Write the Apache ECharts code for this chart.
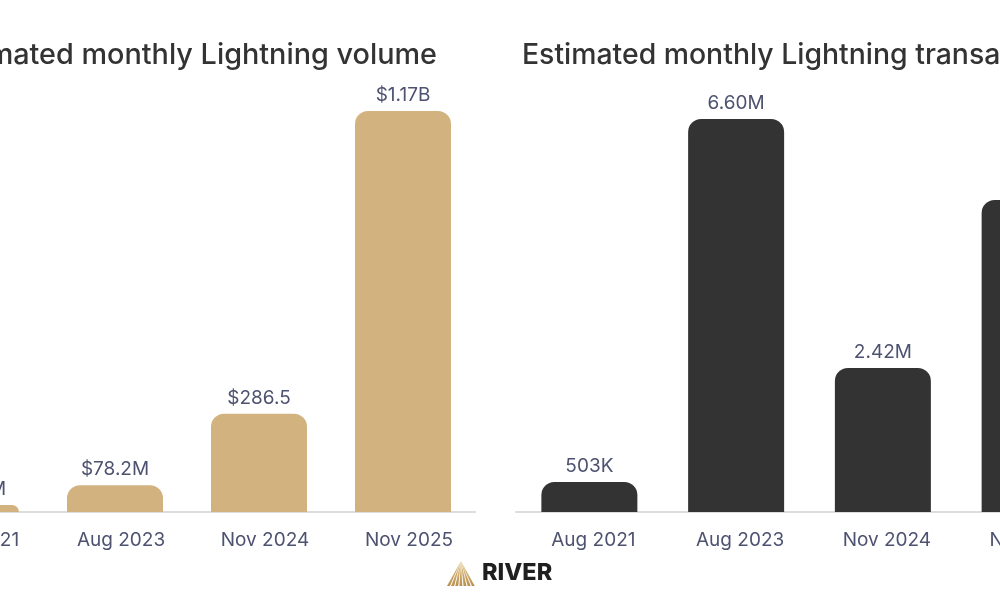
<!DOCTYPE html>
<html>
<head>
<meta charset="utf-8">
<script src="https://cdn.jsdelivr.net/npm/echarts@6/dist/echarts.min.js"></script>
<style>
html,body{margin:0;padding:0;width:1000px;height:600px;overflow:hidden;background:#fff;}
#c{position:absolute;left:-120px;top:0;width:1240px;height:600px;}
</style>
</head>
<body>
<div id="c"></div>
<script>
const categories = ['Aug 2021', 'Aug 2023', 'Nov 2024', 'Nov 2025'];
const volumeValues = [20.4, 78.2, 286.5, 1170];           // $ millions
const volumeLabels = ['$20.4M', '$78.2M', '$286.5', '$1.17B'];
const txValues = [0.503, 6.60, 2.42, 5.24];                // millions
const txLabels = ['503K', '6.60M', '2.42M', '5.24M'];
const leftTitle = 'Estimated monthly Lightning volume';
const rightTitle = 'Estimated monthly Lightning transactions';

const FONT = 'Inter, "Noto Sans", sans-serif';
const LABEL_COLOR = '#4d5270';

const chart = echarts.init(document.getElementById('c'), null, {renderer: 'canvas'});

function xAxis(gridIndex, shift) {
  return {
    type: 'category', gridIndex, data: categories,
    axisLine: {show: true, lineStyle: {color: '#dddddd', width: 2}},
    axisTick: {show: false},
    axisLabel: {color: LABEL_COLOR, fontSize: 19, fontFamily: FONT, margin: 19,
                padding: [0, 0, 0, shift]}
  };
}
function yAxis(gridIndex) {
  return {
    type: 'value', gridIndex, min: 0, max: v => v.max,
    show: false, splitLine: {show: false}
  };
}
function series(idx, values, labels, color, labelShift) {
  return {
    type: 'bar', xAxisIndex: idx, yAxisIndex: idx,
    data: values, barWidth: 96,
    itemStyle: {color, borderRadius: [13, 13, 0, 0]},
    label: {
      show: true, position: 'top', distance: 6,
      color: LABEL_COLOR, fontSize: 19, fontFamily: FONT,
      padding: [0, labelShift, 0, 0],
      formatter: p => labels[p.dataIndex]
    }
  };
}

chart.setOption({
  animation: false,
  title: [
    {text: leftTitle, right: 678, top: 36,
     textStyle: {fontSize: 28.8, fontWeight: 500, color: '#333', fontFamily: FONT}},
    {text: rightTitle, left: 637, top: 36,
     textStyle: {fontSize: 28.4, fontWeight: 500, color: '#333', fontFamily: FONT}}
  ],
  grid: [
    {left: 19, width: 576, top: 111, bottom: 88},
    {left: 636, width: 587, top: 119, bottom: 88}
  ],
  xAxis: [xAxis(0, 12), xAxis(1, 8)],
  yAxis: [yAxis(0), yAxis(1)],
  series: [
    series(0, volumeValues, volumeLabels, '#d2b380', 0),
    series(1, txValues, txLabels, '#333333', 0)
  ],
  graphic: [
    {type: 'group', left: 567, top: 561, children: (function(){
      const els = [];
      const apex = [14.5, 0];
      const n = 7, w = 29, h = 25;
      for (let i = 0; i < n; i++) {
        const x0 = i * w / n + 0.6, x1 = (i + 1) * w / n - 0.6;
        els.push({type: 'polygon', shape: {points: [apex, [x0, h], [x1, h]]},
          style: {fill: new echarts.graphic.LinearGradient(0, 0, 0, 1, [
            {offset: 0, color: '#e6c98e'}, {offset: 1, color: '#b8904f'}])}});
      }
      return els;
    })()},
    {type: 'text', left: 602, top: 561,
     style: {text: 'RIVER', fontSize: 23.5, fontWeight: 800, fill: '#1f1f1f', fontFamily: FONT}}
  ]
});
</script>
</body>
</html>
